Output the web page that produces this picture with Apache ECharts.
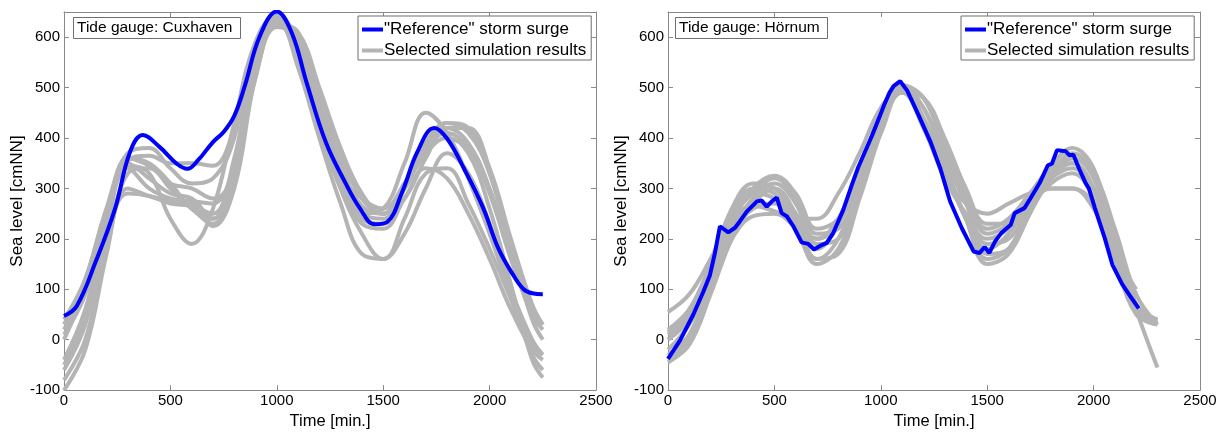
<!DOCTYPE html>
<html>
<head>
<meta charset="utf-8">
<title>Tide gauges</title>
<script src="https://cdn.jsdelivr.net/npm/echarts@6/dist/echarts.min.js"></script>
<style>
  html, body { margin: 0; padding: 0; background: #ffffff; }
  #chart { width: 1223px; height: 435px; }
</style>
</head>
<body>
<div id="chart"></div>
<script>
// Cuxhaven - reference storm surge
var cuxRefTime = [0, 60, 150, 240, 310, 370, 450, 530, 580, 630, 700, 750, 800, 850, 920, 1000, 1070, 1140, 1230, 1320, 1390, 1460, 1520, 1590, 1660, 1740, 1800, 1880, 1970, 2040, 2110, 2160, 2200, 2250];
var cuxRef = [47, 67, 156, 260, 372, 406, 382, 349, 339, 356, 392, 412, 444, 504, 602, 651, 609, 510, 392, 313, 261, 229, 234, 294, 372, 420, 399, 339, 261, 182, 129, 100, 92, 90];

// Cuxhaven - simulation runs
var cuxSimTime = [0, 100, 200, 300, 400, 500, 600, 700, 800, 900, 1000, 1100, 1200, 1300, 1400, 1500, 1600, 1700, 1800, 1900, 2000, 2100, 2200, 2250];
var cuxSim = [
  [30, 120, 260, 355, 365, 350, 350, 345, 420, 580, 640, 570, 450, 330, 280, 260, 310, 380, 420, 390, 300, 170, 60, 30],
  [0, 100, 230, 345, 330, 240, 190, 260, 430, 590, 635, 540, 400, 270, 170, 160, 240, 330, 340, 270, 180, 80, -30, -60],
  [-50, 40, 200, 290, 285, 270, 265, 250, 360, 560, 630, 560, 430, 300, 210, 160, 210, 300, 370, 330, 230, 100, 0, -30],
  [-80, 0, 180, 300, 285, 275, 270, 225, 300, 520, 620, 600, 490, 370, 280, 250, 300, 380, 430, 420, 330, 180, 40, 0],
  [-100, -20, 170, 330, 340, 300, 260, 230, 310, 540, 630, 580, 460, 340, 250, 240, 300, 370, 400, 370, 260, 110, -40, -75],
  [-60, 30, 210, 360, 345, 310, 300, 280, 330, 520, 625, 610, 500, 380, 290, 250, 280, 360, 420, 420, 340, 200, 70, 30],
  [20, 110, 250, 350, 320, 290, 280, 240, 320, 560, 640, 560, 440, 320, 250, 260, 350, 450, 410, 320, 210, 90, -10, -30],
  [-40, 60, 230, 360, 350, 310, 260, 240, 340, 560, 635, 550, 420, 300, 230, 220, 280, 340, 320, 250, 160, 60, -20, -40],
  [10, 90, 240, 340, 300, 280, 275, 270, 350, 570, 645, 580, 450, 330, 240, 230, 300, 390, 430, 410, 330, 190, 60, 30],
  [40, 120, 260, 370, 380, 340, 310, 320, 400, 590, 645, 590, 470, 350, 265, 250, 310, 380, 410, 380, 290, 160, 50, 20]
];

// Hörnum - reference storm surge
var hoeRefTime = [0, 56, 119, 166, 197, 221, 244, 283, 315, 338, 370, 417, 440, 464, 487, 511, 534, 558, 589, 628, 659, 686, 714, 746, 777, 824, 863, 894, 959, 996, 1014, 1041, 1060, 1091, 1124, 1179, 1234, 1280, 1326, 1381, 1436, 1464, 1488, 1510, 1537, 1565, 1611, 1629, 1675, 1703, 1749, 1785, 1804, 1828, 1868, 1886, 1905, 1932, 1960, 1978, 2006, 2052, 2088, 2134, 2171, 2212];
var hoeRef = [-38, -2, 50, 95, 128, 173, 225, 213, 222, 235, 254, 274, 276, 264, 274, 282, 251, 245, 225, 193, 190, 179, 186, 192, 212, 258, 306, 342, 405, 444, 464, 490, 503, 513, 494, 444, 392, 339, 274, 221, 175, 172, 184, 172, 195, 211, 228, 251, 261, 280, 313, 346, 349, 376, 374, 366, 367, 339, 313, 300, 261, 202, 149, 110, 87, 62];

// Hörnum - simulation runs
var hoeSimTime = [0, 100, 200, 300, 400, 500, 600, 700, 800, 900, 1000, 1100, 1200, 1300, 1400, 1500, 1600, 1700, 1800, 1900, 2000, 2100, 2200, 2300];
var hoeSim = [
  [55, 90, 160, 240, 265, 255, 240, 240, 290, 370, 460, 500, 430, 330, 270, 250, 270, 290, 300, 300, 260, 170, 100, null],
  [20, 60, 140, 250, 300, 290, 240, 200, 240, 330, 440, 505, 460, 370, 280, 220, 240, 290, 340, 350, 300, 180, 70, 30],
  [10, 50, 130, 240, 290, 320, 280, 210, 220, 300, 420, 500, 480, 390, 290, 210, 230, 280, 330, 370, 330, 200, 60, -55],
  [0, 40, 120, 220, 280, 310, 270, 190, 200, 290, 430, 500, 460, 360, 270, 190, 200, 260, 320, 350, 300, 170, 60, 40],
  [-20, 30, 110, 200, 245, 250, 220, 160, 200, 310, 440, 495, 440, 340, 240, 160, 180, 260, 310, 330, 280, 160, 50, 30],
  [-40, 0, 100, 210, 260, 270, 220, 150, 180, 290, 420, 495, 460, 350, 240, 150, 170, 250, 320, 360, 320, 190, 60, 35],
  [-45, -10, 90, 200, 270, 300, 250, 160, 170, 280, 410, 505, 480, 380, 280, 170, 180, 250, 340, 380, 340, 200, 70, 40],
  [15, 60, 150, 260, 310, 300, 250, 200, 230, 320, 450, 490, 420, 320, 250, 200, 220, 270, 300, 300, 270, 180, 80, null],
  [0, 45, 140, 240, 290, 280, 230, 180, 230, 330, 450, 500, 440, 340, 240, 180, 210, 270, 320, 340, 300, 190, 60, null],
  [-30, 10, 110, 230, 300, 325, 290, 220, 240, 320, 410, 490, 480, 400, 300, 230, 230, 270, 320, 360, 330, 220, 90, 30]
];

var xTicks = { min: 0, max: 2500, interval: 500 };
var yTicks = { min: -100, max: 650, interval: 100 };

var REF_NAME = '"Reference" storm surge';
var SIM_NAME = 'Selected simulation results';
var BLUE = '#0000ff';
var GREY = '#b4b4b4';
var FRAME = '#8a8a8a';
var FONT = '"Liberation Sans", Arial, sans-serif';

function pairs(t, v) {
  var out = [];
  for (var i = 0; i < t.length; i++) {
    out.push([t[i], v[i]]);
  }
  return out;
}

// plain numbers, no thousands separator
function plain(v) {
  return String(v);
}

function xAxisFor(gridIndex, top) {
  return {
    type: 'value', gridIndex: gridIndex, position: top ? 'top' : 'bottom',
    min: xTicks.min, max: xTicks.max, interval: xTicks.interval,
    name: top ? '' : 'Time [min.]', nameLocation: 'middle', nameGap: 22,
    nameTextStyle: { color: '#000', fontSize: 16.5, fontFamily: FONT },
    axisLine: { show: true, onZero: false, lineStyle: { color: FRAME, width: 1 } },
    axisTick: { show: true, inside: true, length: 5, lineStyle: { color: FRAME } },
    axisLabel: { show: !top, color: '#000', fontSize: 15, fontFamily: FONT, margin: 3, formatter: plain },
    splitLine: { show: false }
  };
}

function yAxisFor(gridIndex, right) {
  return {
    type: 'value', gridIndex: gridIndex, position: right ? 'right' : 'left',
    min: yTicks.min, max: yTicks.max, interval: yTicks.interval,
    name: right ? '' : 'Sea level [cmNN]', nameLocation: 'middle', nameGap: 36, nameRotate: 90,
    nameTextStyle: { color: '#000', fontSize: 17, fontFamily: FONT },
    axisLine: { show: true, onZero: false, lineStyle: { color: FRAME, width: 1 } },
    axisTick: { show: true, inside: true, length: 5, lineStyle: { color: FRAME } },
    axisLabel: { show: !right, color: '#000', fontSize: 15, fontFamily: FONT, margin: 4, showMaxLabel: false, formatter: plain },
    splitLine: { show: false }
  };
}

function legendFor(left) {
  return {
    left: left, top: 16, orient: 'vertical', selectedMode: false,
    backgroundColor: '#fff', borderColor: '#6e6e6e', borderWidth: 1,
    padding: [5, 5, 1, 4], itemGap: 4, itemWidth: 21, itemHeight: 4,
    textStyle: { color: '#000', fontSize: 17, fontFamily: FONT, lineHeight: 17, padding: [0, 0, 0, -4] },
    data: [
      { name: REF_NAME, icon: 'rect', itemStyle: { color: BLUE } },
      { name: SIM_NAME, icon: 'rect', itemStyle: { color: GREY } }
    ]
  };
}

function titleFor(text, left) {
  return {
    text: text, left: left, top: 17,
    padding: [3, 8, 3, 4],
    borderColor: '#6e6e6e', borderWidth: 1, backgroundColor: '#fff',
    textStyle: { color: '#000', fontSize: 15.5, fontWeight: 'normal', fontFamily: FONT, lineHeight: 16 }
  };
}

var series = [];
function addGauge(axisIdx, simTime, sims, refTime, ref, smoothRef) {
  for (var i = 0; i < sims.length; i++) {
    series.push({
      name: SIM_NAME, type: 'line', xAxisIndex: axisIdx, yAxisIndex: axisIdx,
      data: pairs(simTime, sims[i]), smooth: 0.4, showSymbol: false, symbol: 'none',
      color: GREY, lineStyle: { color: GREY, width: 4 }, z: 2
    });
  }
  series.push({
    name: REF_NAME, type: 'line', xAxisIndex: axisIdx, yAxisIndex: axisIdx,
    data: pairs(refTime, ref), smooth: smoothRef, showSymbol: false, symbol: 'none',
    color: BLUE, lineStyle: { color: BLUE, width: 4 }, z: 3
  });
}
addGauge(0, cuxSimTime, cuxSim, cuxRefTime, cuxRef, 0.4);
addGauge(2, hoeSimTime, hoeSim, hoeRefTime, hoeRef, false);

var myChart = echarts.init(document.getElementById('chart'), null, { renderer: 'canvas' });
var option = {
  animation: false,
  backgroundColor: '#ffffff',
  title: [titleFor('Tide gauge: Cuxhaven', 73), titleFor('Tide gauge: Hörnum', 675)],
  legend: [legendFor(358), legendFor(961)],
  grid: [
    { left: 64, top: 12, width: 532, height: 385 },
    { left: 668, top: 12, width: 532, height: 385 }
  ],
  xAxis: [xAxisFor(0, false), xAxisFor(0, true), xAxisFor(1, false), xAxisFor(1, true)],
  yAxis: [yAxisFor(0, false), yAxisFor(0, true), yAxisFor(1, false), yAxisFor(1, true)],
  series: series
};
myChart.setOption(option);
</script>
</body>
</html>
